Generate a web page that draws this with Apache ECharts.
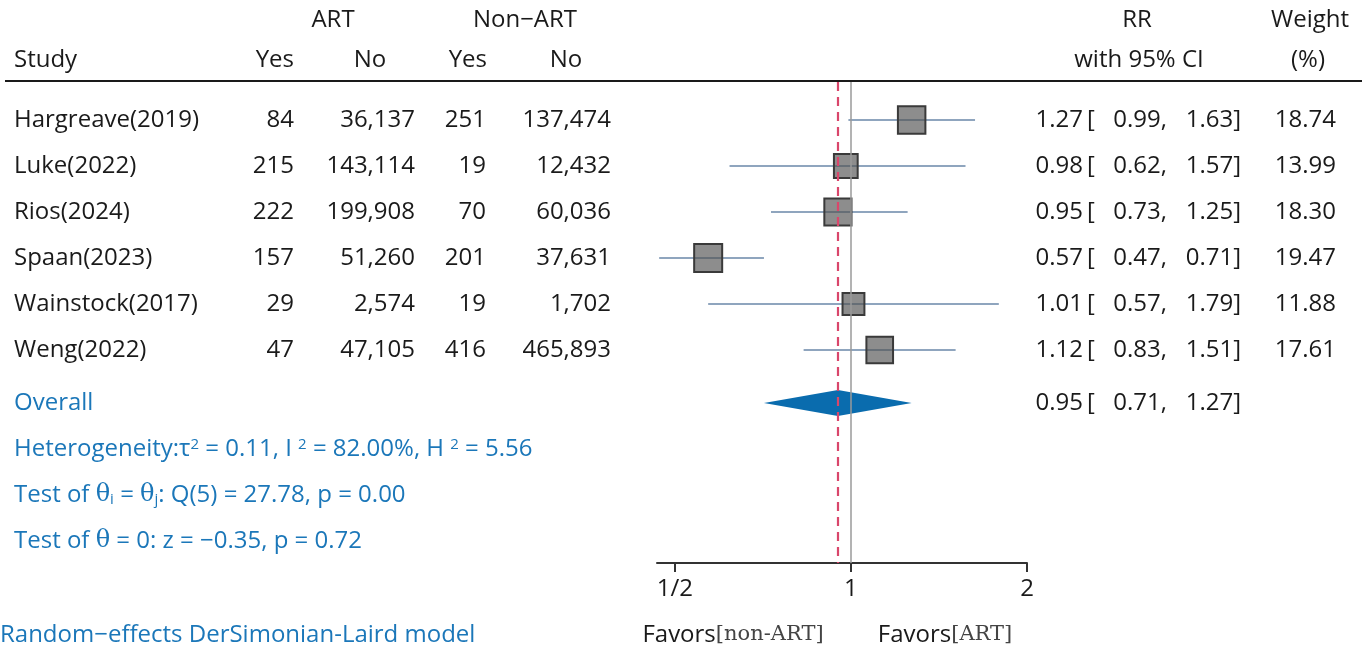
<!DOCTYPE html>
<html>
<head>
<meta charset="utf-8">
<script src="https://cdn.jsdelivr.net/npm/echarts@6/dist/echarts.min.js"></script>
<style>
  html, body { margin: 0; padding: 0; background: #fff; }
  #forest { width: 1367px; height: 650px; }
</style>
</head>
<body>
<div id="forest"></div>
<script>
// study data
const studies = ["Hargreave(2019)", "Luke(2022)", "Rios(2024)", "Spaan(2023)", "Wainstock(2017)", "Weng(2022)"];
const artYes = [84, 215, 222, 157, 29, 47];
const artNo = [36137, 143114, 199908, 51260, 2574, 47105];
const nonArtYes = [251, 19, 70, 201, 19, 416];
const nonArtNo = [137474, 12432, 60036, 37631, 1702, 465893];
const rr = [1.27, 0.98, 0.95, 0.57, 1.01, 1.12];
const ciLow = [0.99, 0.62, 0.73, 0.47, 0.57, 0.83];
const ciHigh = [1.63, 1.57, 1.25, 0.71, 1.79, 1.51];
const weight = [18.74, 13.99, 18.30, 19.47, 11.88, 17.61];
const overall = { rr: 0.95, low: 0.71, high: 1.27 };
const xTicks = [0.5, 1, 2];
const xTickLabels = ["1/2", "1", "2"];

const SANS = '"Open Sans", "Noto Sans", sans-serif';
const SERIF = '"DejaVu Serif", "Liberation Serif", serif';
const BLACK = "#1a1a1a";
const BLUE = "#1b77b9";
const FS = 24;

// row positions on the y value axis (1 row = 46px)
const rowPos = studies.map((_, i) => i + 1);
const overallPos = 7.15;
const rowPx = (p) => 74 + 46 * p;

const chart = echarts.init(document.getElementById("forest"));

function txt(text, x, y, align, fill) {
  return {
    type: "text",
    x: x,
    y: y,
    style: {
      text: text,
      fontFamily: SANS,
      fontSize: FS,
      fill: fill || BLACK,
      align: align || "left",
      verticalAlign: "middle",
    },
  };
}

function ciTexts(est, lo, hi, y) {
  return [
    txt(est.toFixed(2), 1083, y, "right"),
    txt("[", 1087, y, "left"),
    txt(lo.toFixed(2) + ",", 1167, y, "right"),
    txt(hi.toFixed(2) + "]", 1241, y, "right"),
  ];
}

const fmt = (n) => n.toLocaleString("en-US");

const graphics = [
  // headers
  txt("ART", 333, 20, "center"),
  txt("Non\u2212ART", 525, 20, "center"),
  txt("RR", 1137, 20, "center"),
  txt("Weight", 1310, 20, "center"),
  txt("Study", 14, 60, "left"),
  txt("Yes", 294, 60, "right"),
  txt("No", 370, 60, "center"),
  txt("Yes", 487, 60, "right"),
  txt("No", 566, 60, "center"),
  txt("with 95% CI", 1139, 60, "center"),
  txt("(%)", 1308, 60, "center"),
  {
    type: "line",
    shape: { x1: 5, y1: 81, x2: 1362, y2: 81 },
    style: { stroke: BLACK, lineWidth: 2 },
  },
];

studies.forEach((s, i) => {
  const y = rowPx(rowPos[i]);
  graphics.push(txt(s, 14, y, "left"));
  graphics.push(txt(fmt(artYes[i]), 294, y, "right"));
  graphics.push(txt(fmt(artNo[i]), 415, y, "right"));
  graphics.push(txt(fmt(nonArtYes[i]), 486, y, "right"));
  graphics.push(txt(fmt(nonArtNo[i]), 611, y, "right"));
  graphics.push(...ciTexts(rr[i], ciLow[i], ciHigh[i], y));
  graphics.push(txt(weight[i].toFixed(2), 1336, y, "right"));
});

const oy = rowPx(overallPos);
graphics.push(txt("Overall", 14, oy, "left", BLUE));
graphics.push(...ciTexts(overall.rr, overall.low, overall.high, oy));

graphics.push(txt("Heterogeneity:\u03c4{sup|2} = 0.11, I {sup|2} = 82.00%, H {sup|2} = 5.56", 14, oy + 46, "left", BLUE));
graphics.push(txt("Test of {th|\u03b8}{sub|i} = {th|\u03b8}{sub|j}: Q(5) = 27.78, p = 0.00", 14, oy + 92, "left", BLUE));
graphics.push(txt("Test of {th|\u03b8} = 0: z = \u22120.35, p = 0.72", 14, oy + 138, "left", BLUE));
graphics.push(txt("Random\u2212effects DerSimonian-Laird model", 0, 635, "left", BLUE));

graphics.push(txt("{a|Favors}{b|[non-ART]}", 733, 635, "center"));
graphics.push(txt("{a|Favors}{b|[ART]}", 945, 635, "center"));

const rich = {
  sup: { fontSize: 15, verticalAlign: "top", fill: BLUE, fontFamily: SANS, padding: [0, 0, 8, 0] },
  sub: { fontSize: 15, verticalAlign: "bottom", fill: BLUE, fontFamily: SANS, padding: [6, 0, 0, 0] },
  th: { fontSize: FS, fill: BLUE, fontFamily: SERIF },
  a: { fontFamily: SANS, fontSize: FS, fill: BLACK },
  b: { fontFamily: SERIF, fontSize: 21, fill: "#444" },
};
graphics.forEach((g) => {
  if (g.type === "text") g.style.rich = rich;
});

chart.setOption({
  animation: false,
  grid: { left: 657, right: 1367 - 1027, top: 82, bottom: 650 - 563 },
  xAxis: {
    type: "log",
    logBase: 2,
    min: 0.466,
    max: 2,
    axisLine: { show: true, lineStyle: { color: "#333", width: 2 } },
    axisTick: { show: true, customValues: xTicks, length: 9, lineStyle: { color: "#333", width: 2 } },
    axisLabel: {
      customValues: xTicks,
      margin: 14,
      fontFamily: SANS,
      fontSize: FS,
      color: BLACK,
      formatter: (v) => {
        const idx = xTicks.findIndex((t) => Math.abs(t - v) < 1e-6);
        return idx >= 0 ? xTickLabels[idx] : "";
      },
    },
    splitLine: { show: false },
  },
  yAxis: {
    type: "value",
    inverse: true,
    min: (82 - 74) / 46,
    max: (563 - 74) / 46,
    show: false,
  },
  graphic: graphics,
  series: [
    {
      // confidence intervals
      type: "custom",
      z: 2,
      renderItem: (params, api) => {
        const a = api.coord([api.value(0), api.value(2)]);
        const b = api.coord([api.value(1), api.value(2)]);
        return {
          type: "line",
          shape: { x1: a[0], y1: a[1], x2: b[0], y2: b[1] },
          style: { stroke: "#8fa5be", lineWidth: 2 },
        };
      },
      data: studies.map((_, i) => [ciLow[i], ciHigh[i], rowPos[i]]),
      markLine: {
        silent: true,
        symbol: "none",
        label: { show: false },
        data: [
          { xAxis: 1, lineStyle: { color: "#9a9a9a", width: 1.5, type: "solid" } },
          { xAxis: overall.rr, lineStyle: { color: "#d9466b", width: 2.2, type: [9, 6] } },
        ],
      },
    },
    {
      // study estimates, square size scaled by weight
      type: "scatter",
      z: 3,
      symbol: "rect",
      symbolSize: (v) => 6.35 * Math.sqrt(v[2]),
      itemStyle: { color: "rgba(80,80,80,0.65)", borderColor: "#3a3a3a", borderWidth: 2, opacity: 1 },
      data: studies.map((_, i) => [rr[i], rowPos[i], weight[i]]),
    },
    {
      // overall diamond
      type: "custom",
      z: 4,
      renderItem: (params, api) => {
        const l = api.coord([api.value(0), api.value(3)]);
        const c = api.coord([api.value(1), api.value(3)]);
        const r = api.coord([api.value(2), api.value(3)]);
        const h = 13;
        return {
          type: "polygon",
          shape: { points: [[l[0], l[1]], [c[0], c[1] - h], [r[0], r[1]], [c[0], c[1] + h]] },
          style: { fill: "#0a6cae" },
        };
      },
      data: [[overall.low, overall.rr, overall.high, overallPos]],
    },
  ],
});
</script>
</body>
</html>
